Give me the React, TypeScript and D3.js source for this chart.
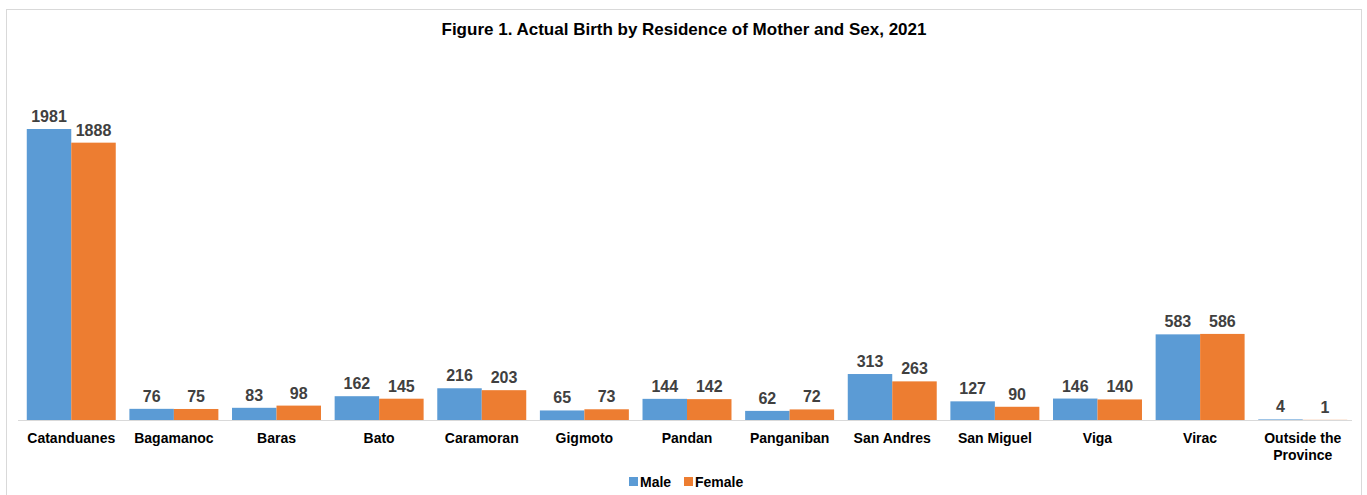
import React from "react";
import * as d3 from "d3";

const categories = ["Catanduanes", "Bagamanoc", "Baras", "Bato", "Caramoran", "Gigmoto", "Pandan", "Panganiban", "San Andres", "San Miguel", "Viga", "Virac", "Outside the Province"];
const male = [1981, 76, 83, 162, 216, 65, 144, 62, 313, 127, 146, 583, 4];
const female = [1888, 75, 98, 145, 203, 73, 142, 72, 263, 90, 140, 586, 1];
const seriesNames = ["Male", "Female"];
const colors = ["#5B9BD5", "#ED7D31"];
const title = "Figure 1. Actual Birth by Residence of Mother and Sex, 2021";

export default function App() {
  const W = 1367, H = 495;
  const left = 20, right = 1354, baseY = 420;
  const x0 = d3.scaleBand<string>().domain(categories).range([left, right]).paddingInner(0.133).paddingOuter(0.066);
  const x1 = d3.scaleBand<string>().domain(seriesNames).range([0, x0.bandwidth()]);
  const y = d3.scaleLinear().domain([0, 1981]).range([baseY, 129]);
  const font = "'Liberation Sans', Arial, sans-serif";
  const series = [male, female];
  return (
    <svg width={W} height={H} style={{ position: "absolute", left: 0, top: 0, background: "#fff" }} fontFamily={font}>
      <rect x={6.5} y={9.5} width={1355} height={490} fill="#fff" stroke="#d9d9d9" />
      <text x={684} y={35} textAnchor="middle" fontSize={17} fontWeight="bold" fill="#000">{title}</text>
      {categories.map((c, i) => (
        <g key={c}>
          {series.map((s, k) => {
            const bx = (x0(c) as number) + (x1(seriesNames[k]) as number);
            const bw = x1.bandwidth();
            const top = y(s[i]);
            return (
              <g key={k}>
                <rect x={bx} y={top} width={bw} height={Math.max(baseY - top, 0)} fill={colors[k]} />
                <text x={bx + bw / 2} y={top - 7} textAnchor="middle" fontSize={16} fontWeight="bold" fill="#404040">{s[i]}</text>
              </g>
            );
          })}
        </g>
      ))}
      <line x1={left - 2} x2={right - 2} y1={baseY + 0.5} y2={baseY + 0.5} stroke="#d9d9d9" />
      {categories.map((c) => {
        const cx = (x0(c) as number) + x0.bandwidth() / 2;
        const lines = c === "Outside the Province" ? ["Outside the", "Province"] : [c];
        return (
          <text key={c} x={cx} textAnchor="middle" fontSize={14} fontWeight="bold" fill="#000">
            {lines.map((l, j) => (
              <tspan key={j} x={cx} y={443 + j * 17}>{l}</tspan>
            ))}
          </text>
        );
      })}
      <g>
        <rect x={629} y={477} width={9} height={9} fill={colors[0]} />
        <text x={640} y={487} fontSize={14} fontWeight="bold" fill="#000">{seriesNames[0]}</text>
        <rect x={684} y={477} width={9} height={9} fill={colors[1]} />
        <text x={695} y={487} fontSize={14} fontWeight="bold" fill="#000">{seriesNames[1]}</text>
      </g>
    </svg>
  );
}
